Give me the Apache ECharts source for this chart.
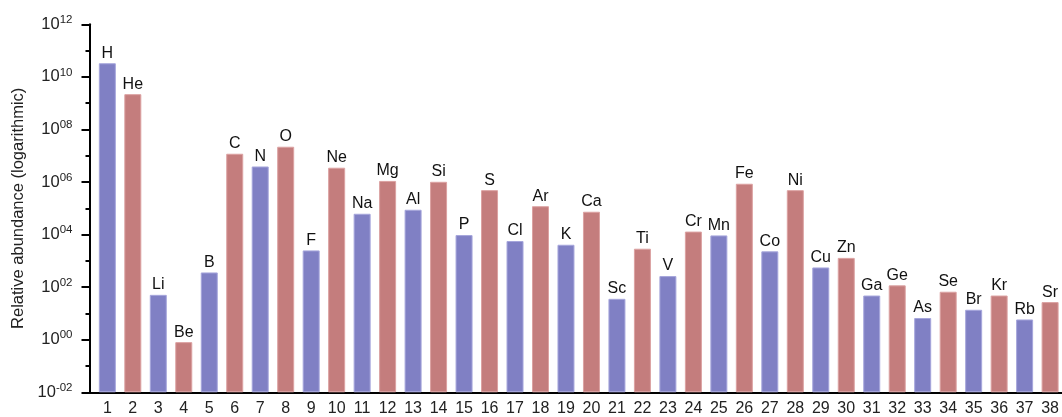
<!DOCTYPE html>
<html>
<head>
<meta charset="utf-8">
<script src="https://cdn.jsdelivr.net/npm/echarts@6/dist/echarts.min.js"></script>
<style>html,body{margin:0;padding:0;background:#fff}#c{width:1062px;height:417px}</style>
</head>
<body>
<div id="c"></div>
<script>
const atomicNumbers = [1,2,3,4,5,6,7,8,9,10,11,12,13,14,15,16,17,18,19,20,21,22,23,24,25,26,27,28,29,30,31,32,33,34,35,36,37,38];
const symbols = ['H','He','Li','Be','B','C','N','O','F','Ne','Na','Mg','Al','Si','P','S','Cl','Ar','K','Ca','Sc','Ti','V','Cr','Mn','Fe','Co','Ni','Cu','Zn','Ga','Ge','As','Se','Br','Kr','Rb','Sr'];
const abundance = [3.3e10, 2.2e9, 51, 0.81, 363, 1.19e7, 3.9e6, 2.2e7, 2.5e3, 3.5e6,
  6.2e4, 1.1e6, 8.8e4, 1.02e6, 9.6e3, 4.9e5, 5.7e3, 1.2e5, 4.1e3, 7.4e4,
  36, 2.9e3, 264, 1.3e4, 9.3e3, 8.6e5, 2.3e3, 4.9e5, 562, 1.3e3,
  48, 117, 6.7, 67, 13.8, 48, 5.9, 27];
// y axis: decades from 10^-2 to 10^12, labelled every 2 decades
const yMinExp = -2, yMaxExp = 12, yStepExp = 2;

const blue = '#8080c4', red = '#c47d7d';
// bars are measured in decades above the axis floor (10^yMinExp) so they rise from the bottom axis
const data = atomicNumbers.map((n, i) => ({
  value: [n, Math.log10(abundance[i]) - yMinExp],
  name: symbols[i],
  itemStyle: {
    color: n % 2 ? blue : red,
    borderColor: n % 2 ? '#a6a6dc' : '#dca2a2',
    borderWidth: 1
  }
}));

const chart = echarts.init(document.getElementById('c'));
chart.setOption({
  animation: false,
  grid: {left: 89.5, right: 0, top: 24.3, bottom: 24.7},
  xAxis: {
    type: 'value', min: 0.3, max: 38.45,
    splitLine: {show: false},
    axisLine: {show: true, onZero: false, lineStyle: {color: '#000', width: 2}},
    axisTick: {show: false},
    axisLabel: {
      customValues: atomicNumbers,
      color: '#222', fontSize: 16, fontFamily: 'Liberation Sans', margin: 8
    }
  },
  yAxis: {
    type: 'value', min: 0, max: yMaxExp - yMinExp, interval: yStepExp,
    name: 'Relative abundance (logarithmic)',
    nameLocation: 'middle', nameGap: 62,
    nameTextStyle: {fontSize: 16.5, fontFamily: 'Liberation Sans', color: '#222'},
    splitLine: {show: false},
    axisLine: {show: true, onZero: false, lineStyle: {color: '#000', width: 2}},
    axisTick: {show: true, length: 8, lineStyle: {color: '#000', width: 2}},
    minorTick: {show: true, splitNumber: 2, length: 4, lineStyle: {color: '#000', width: 2}},
    axisLabel: {
      margin: 17,
      formatter: function (v) {
        const e = Math.round(v + yMinExp);
        const s = (e < 0 ? '-' : '') + String(Math.abs(e)).padStart(2, '0');
        return '{b|10}{s|' + s + '}';
      },
      rich: {
        b: {fontSize: 16.5, fontFamily: 'Liberation Sans', color: '#222'},
        s: {fontSize: 11.5, fontFamily: 'Liberation Sans', color: '#222', padding: [0, 0, 9, 0]}
      }
    }
  },
  series: [{
    type: 'bar',
    data: data,
    barWidth: 17,
    label: {
      show: true, position: 'top', distance: 2,
      formatter: p => p.name,
      fontSize: 16, fontFamily: 'Liberation Sans', color: '#111'
    }
  }]
});
</script>
</body>
</html>
